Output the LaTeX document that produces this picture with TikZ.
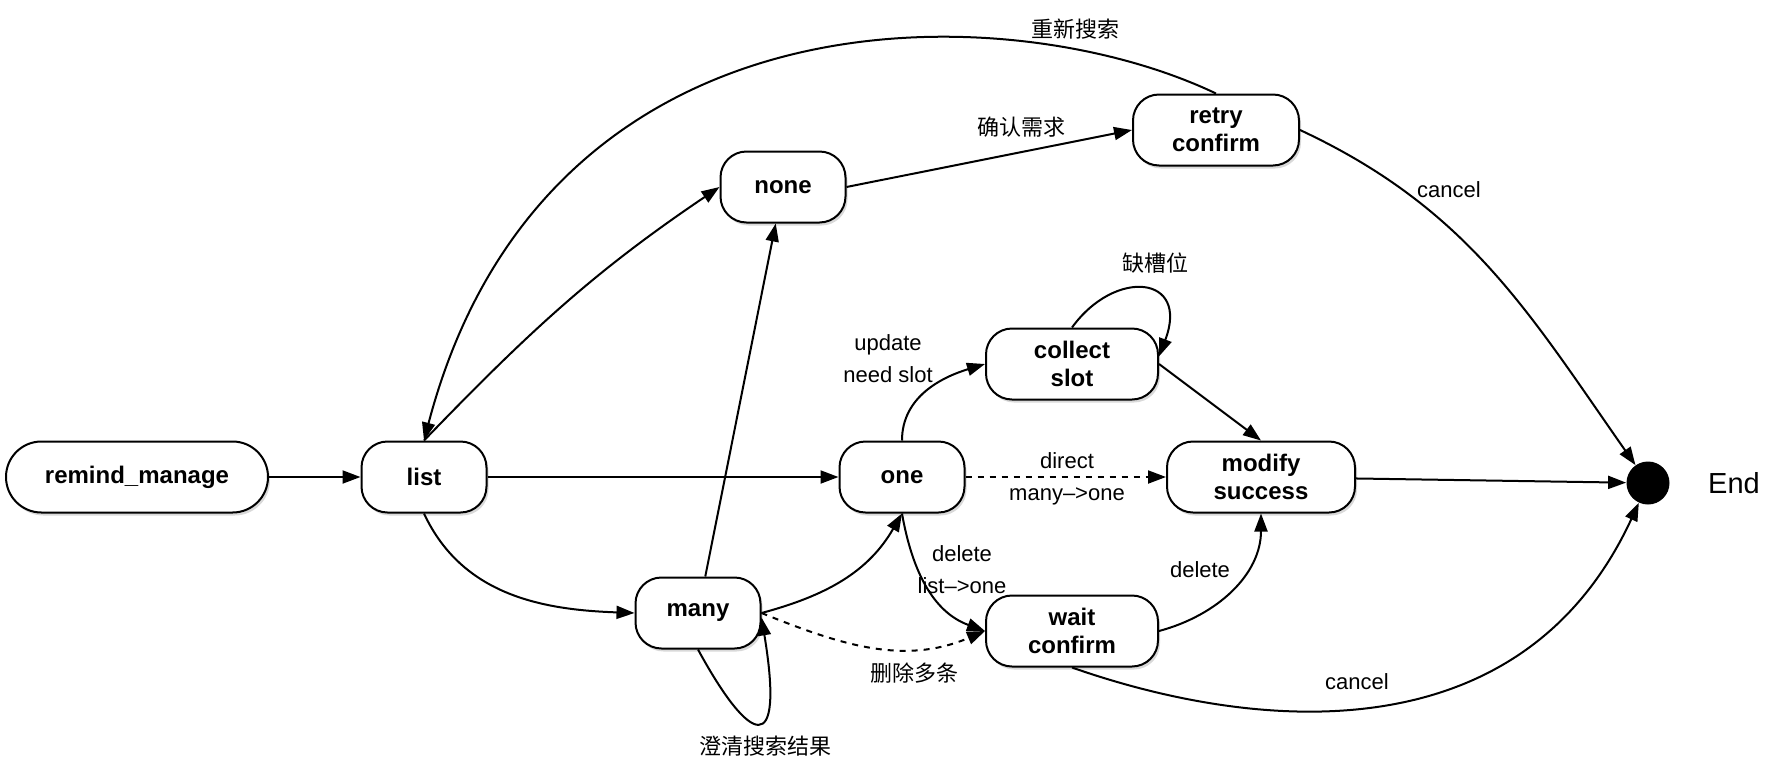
\documentclass[tikz,border=0pt]{standalone}
\usepackage{fontspec}
\setmainfont{Liberation Sans}
\newfontfamily\cjk{Noto Sans CJK SC}
\usetikzlibrary{arrows.meta,shadows}

\tikzset{
  state/.style={rectangle, rounded corners=13pt, draw, line width=1pt,
    fill=white, minimum height=35.5pt, inner sep=2pt, align=center,
    font=\bfseries\fontsize{12}{14}\selectfont,
    drop shadow={shadow xshift=1pt, shadow yshift=-1.5pt, opacity=0.3}},
  trans/.style={-{Triangle[length=9pt,width=6.5pt]}, line width=1pt},
  lbl/.style={font=\fontsize{11}{16}\selectfont, align=center, inner sep=1pt},
  zh/.style={font=\cjk\fontsize{11}{14}\selectfont, inner sep=1pt}
}

\begin{document}
\begin{tikzpicture}[x=0.5pt,y=0.5pt]
  \useasboundingbox (0,0) rectangle (1774,-772);

  % states
  \node (remind) [state, rounded corners=17.7pt, minimum width=131pt] at (137,-477) {remind\_manage};
  \node (list) [state, minimum width=62.5pt] at (424,-477) {list};
  \node (none) [state, minimum width=62.5pt] at (783,-187) {none};
  \node (retry) [state, minimum width=83pt] at (1216,-130) {retry\\confirm};
  \node (collect) [state, minimum width=86pt] at (1072,-364) {collect\\slot};
  \node (one) [state, minimum width=62.5pt] at (902,-477) {one};
  \node (modify) [state, minimum width=94pt] at (1261,-477) {modify\\success};
  \node (many) [state, minimum width=62.5pt] at (698,-613) {many};
  \node (wait) [state, minimum width=86pt] at (1072,-631) {wait\\confirm};
  \node (end) [circle, fill=black, minimum size=21.5pt, inner sep=0pt] at (1648,-483) {};
  \node (endtext) [font=\fontsize{14.5}{16}\selectfont] at (1734,-483) {End};

  % straight transitions
  \foreach \from/\to in {remind/list, list/one, none.east/retry.west, many/none, modify/end}
    \draw[trans] (\from) -- (\to);
  \draw[trans] (collect.east) -- (modify.north);
  \draw[trans, dashed] (one.east) -- (modify.west);

  % curved transitions
  \draw[trans] (list.north) to[out=46,in=214] (none.west);
  \draw[trans] (retry.north) .. controls (1010,5) and (545,20) .. (list.north);
  \draw[trans] (retry.east) to[out=-25,in=125] (end);
  \draw[trans] (list.south) to[out=-65,in=178] (many.west);
  \draw[trans] (many.east) to[out=15,in=-120] (one.south);
  \draw[trans, dashed] (many.east) to[out=-22,in=203] (wait.west);
  \draw[trans] (many.south) .. controls (750,-745) and (785,-760) .. (many.-4);
  \draw[trans] (one.north) to[out=90,in=197] (collect.west);
  \draw[trans] (collect.north) .. controls (1115,-268) and (1190,-275) .. (collect.5);
  \draw[trans] (one.south) to[out=-80,in=160] (wait.west);
  \draw[trans] (wait.east) to[out=15,in=-90] (modify.south);
  \draw[trans] (wait.south) .. controls (1250,-730) and (1520,-760) .. (end);

  % labels
  \node (l-retry) [zh] at (1075,-29) {重新搜索};
  \node (l-confirm) [zh] at (1021,-127) {确认需求};
  \node (l-slot) [zh] at (1155,-263) {缺槽位};
  \node (l-update) [lbl] at (888,-359) {update\\need slot};
  \node (l-direct) [lbl] at (1067,-479) {direct\\many-->one};
  \node (l-delete) [lbl] at (962,-570) {delete\\list-->one};
  \node (l-multi) [zh] at (914,-673) {删除多条};
  \node (l-clarify) [zh] at (765,-746) {澄清搜索结果};
  \node (l-delete2) [lbl] at (1200,-570) {delete};
  \node (l-cancel1) [lbl] at (1449,-190) {cancel};
  \node (l-cancel2) [lbl] at (1357,-682) {cancel};
\end{tikzpicture}
\end{document}
